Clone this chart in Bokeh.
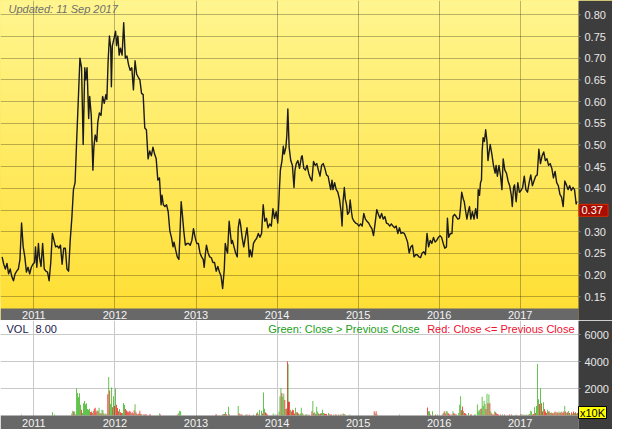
from bokeh.plotting import figure
from bokeh.layouts import column
from bokeh.models import Range1d, FixedTicker, Grid, BoxAnnotation, Label
from bokeh.core.properties import value
from bokeh.embed import file_html
from bokeh.resources import INLINE

# ---------------- data ----------------
year_ticks = [2011, 2012, 2013, 2014, 2015, 2016, 2017]
year_labels = ["2011", "2012", "2013", "2014", "2015", "2016", "2017"]
price_ticks = [0.15, 0.20, 0.25, 0.30, 0.35, 0.40, 0.45, 0.50, 0.55, 0.60, 0.65, 0.70, 0.75, 0.80]
price_tick_labels = ["0.15", "0.20", "0.25", "0.30", "0.35", "0.40", "0.45",
                     "0.50", "0.55", "0.60", "0.65", "0.70", "0.75", "0.80"]
vol_ticks = [2000, 4000, 6000]
vol_tick_labels = ["2000", "4000", "6000"]
updated_text = "Updated: 11 Sep 2017"
vol_avg_text = "8.00"
vol_unit_text = "x10K"

# close price, dates as decimal years
price_years = [
    2010.608, 2010.628, 2010.648, 2010.668, 2010.688, 2010.708, 2010.728, 2010.748, 2010.768, 2010.788,
    2010.808, 2010.828, 2010.848, 2010.868, 2010.888, 2010.908, 2010.928, 2010.948, 2010.968, 2010.988,
    2011.008, 2011.020, 2011.036, 2011.056, 2011.068, 2011.088, 2011.108, 2011.128, 2011.148, 2011.168,
    2011.188, 2011.208, 2011.228, 2011.248, 2011.268, 2011.288, 2011.308, 2011.328, 2011.348, 2011.368,
    2011.388, 2011.408, 2011.428, 2011.448, 2011.468, 2011.488, 2011.508, 2011.528, 2011.548, 2011.568,
    2011.588, 2011.608, 2011.628, 2011.640, 2011.656, 2011.676, 2011.688, 2011.708, 2011.728, 2011.740,
    2011.756, 2011.776, 2011.788, 2011.808, 2011.828, 2011.848, 2011.868, 2011.888, 2011.900, 2011.916,
    2011.932, 2011.948, 2011.956, 2011.968, 2011.988, 2012.008, 2012.020, 2012.036, 2012.052, 2012.068,
    2012.088, 2012.108, 2012.128, 2012.148, 2012.168, 2012.188, 2012.208, 2012.228, 2012.248, 2012.268,
    2012.288, 2012.308, 2012.328, 2012.348, 2012.368, 2012.388,
    2012.409, 2012.429, 2012.449, 2012.469, 2012.489, 2012.509, 2012.529, 2012.549, 2012.569, 2012.581,
    2012.597, 2012.617, 2012.637, 2012.657, 2012.677, 2012.697, 2012.717, 2012.729, 2012.749, 2012.769,
    2012.789, 2012.801, 2012.817, 2012.829, 2012.849, 2012.869, 2012.889, 2012.909, 2012.929, 2012.949,
    2012.969, 2012.989, 2013.009, 2013.029, 2013.049, 2013.069, 2013.089, 2013.101, 2013.117, 2013.129,
    2013.149, 2013.169, 2013.189, 2013.209, 2013.229, 2013.249, 2013.269, 2013.289, 2013.309, 2013.329,
    2013.349, 2013.361, 2013.377, 2013.389, 2013.409, 2013.421, 2013.437, 2013.449, 2013.469, 2013.489,
    2013.509, 2013.521, 2013.537, 2013.549, 2013.569, 2013.589, 2013.609, 2013.629, 2013.641, 2013.657,
    2013.669, 2013.689, 2013.709, 2013.729, 2013.749, 2013.769, 2013.789, 2013.809, 2013.829, 2013.849,
    2013.869, 2013.889, 2013.909, 2013.929, 2013.949, 2013.969, 2013.989, 2014.009, 2014.029, 2014.041,
    2014.061, 2014.077, 2014.089, 2014.109, 2014.121, 2014.133, 2014.149, 2014.169, 2014.189, 2014.209,
    2014.221, 2014.237, 2014.257, 2014.277, 2014.301,
    2014.310, 2014.330, 2014.350, 2014.370, 2014.390, 2014.410, 2014.430, 2014.450, 2014.470, 2014.490,
    2014.510, 2014.530, 2014.550, 2014.570, 2014.590, 2014.610, 2014.630, 2014.650, 2014.662, 2014.678,
    2014.690, 2014.710, 2014.730, 2014.750, 2014.770, 2014.790, 2014.802, 2014.814, 2014.830, 2014.842,
    2014.858, 2014.870, 2014.890, 2014.902, 2014.918, 2014.930, 2014.950, 2014.970, 2014.990, 2015.010,
    2015.030, 2015.050, 2015.070, 2015.090, 2015.110, 2015.130, 2015.150, 2015.170, 2015.190, 2015.210,
    2015.230, 2015.250, 2015.270, 2015.290, 2015.310, 2015.330, 2015.350, 2015.370, 2015.390, 2015.410,
    2015.430, 2015.450, 2015.470, 2015.490, 2015.510, 2015.530, 2015.550, 2015.570, 2015.590, 2015.610,
    2015.630, 2015.650, 2015.670, 2015.690, 2015.710, 2015.730, 2015.750, 2015.770, 2015.790, 2015.810,
    2015.830, 2015.850, 2015.870,
    2015.890, 2015.910, 2015.930, 2015.950, 2015.970, 2015.990, 2016.010, 2016.030, 2016.050, 2016.070,
    2016.090, 2016.102, 2016.118, 2016.138, 2016.158, 2016.170, 2016.190, 2016.210, 2016.230, 2016.250,
    2016.262, 2016.278, 2016.298, 2016.310, 2016.322, 2016.342, 2016.358, 2016.374, 2016.390, 2016.410,
    2016.430, 2016.450, 2016.470, 2016.482, 2016.498, 2016.510, 2016.522, 2016.530, 2016.542, 2016.558,
    2016.574, 2016.590, 2016.602, 2016.618, 2016.630, 2016.650, 2016.670, 2016.690, 2016.702, 2016.718,
    2016.738, 2016.758, 2016.774, 2016.790, 2016.810, 2016.830, 2016.850, 2016.870, 2016.890, 2016.902,
    2016.918, 2016.930, 2016.950, 2016.970, 2016.990, 2017.010, 2017.030, 2017.050, 2017.070, 2017.090,
    2017.110, 2017.130, 2017.150, 2017.170, 2017.190, 2017.210, 2017.230, 2017.250, 2017.270, 2017.290,
    2017.310, 2017.330, 2017.350, 2017.370, 2017.390, 2017.410, 2017.430, 2017.450, 2017.470, 2017.490,
    2017.510, 2017.530, 2017.550, 2017.570, 2017.590, 2017.610, 2017.630, 2017.650, 2017.670, 2017.690,
    2017.700,
]
price_values = [
    0.242, 0.225, 0.214, 0.227, 0.203, 0.214, 0.196, 0.187, 0.203, 0.209,
    0.214, 0.236, 0.320, 0.265, 0.242, 0.207, 0.218, 0.203, 0.218, 0.225,
    0.229, 0.265, 0.218, 0.273, 0.242, 0.220, 0.273, 0.214, 0.209, 0.207,
    0.187, 0.229, 0.296, 0.280, 0.265, 0.267, 0.262, 0.269, 0.225, 0.262,
    0.262, 0.214, 0.209, 0.280, 0.331, 0.397, 0.413, 0.512, 0.605, 0.700,
    0.678, 0.501, 0.678, 0.650, 0.678, 0.561, 0.612, 0.568, 0.442, 0.495,
    0.523, 0.508, 0.552, 0.574, 0.568, 0.612, 0.596, 0.616, 0.605, 0.694,
    0.751, 0.723, 0.634, 0.729, 0.745, 0.762, 0.729, 0.751, 0.707, 0.723,
    0.707, 0.782, 0.700, 0.705, 0.685, 0.672, 0.678, 0.627, 0.694, 0.663,
    0.656, 0.650, 0.619, 0.616, 0.539, 0.535,
    0.468, 0.486, 0.475, 0.495, 0.479, 0.468, 0.419, 0.424, 0.362, 0.384,
    0.362, 0.358, 0.362, 0.346, 0.302, 0.287, 0.265, 0.276, 0.258, 0.242,
    0.236, 0.287, 0.369, 0.346, 0.302, 0.269, 0.273, 0.273, 0.269, 0.280,
    0.307, 0.287, 0.273, 0.273, 0.251, 0.242, 0.236, 0.218, 0.251, 0.269,
    0.251, 0.242, 0.240, 0.229, 0.229, 0.209, 0.220, 0.207, 0.198, 0.169,
    0.214, 0.273, 0.258, 0.251, 0.324, 0.302, 0.273, 0.280, 0.265, 0.251,
    0.242, 0.309, 0.329, 0.318, 0.287, 0.265, 0.287, 0.309, 0.287, 0.242,
    0.258, 0.242, 0.273, 0.280, 0.285, 0.296, 0.287, 0.296, 0.362, 0.324,
    0.331, 0.309, 0.318, 0.313, 0.353, 0.331, 0.346, 0.320, 0.397, 0.442,
    0.464, 0.497, 0.479, 0.495, 0.523, 0.583, 0.495, 0.464, 0.453, 0.402,
    0.442, 0.457, 0.464, 0.446, 0.473,
    0.475, 0.446, 0.442, 0.453, 0.435, 0.424, 0.417, 0.462, 0.453, 0.457,
    0.442, 0.428, 0.453, 0.457, 0.446, 0.431, 0.428, 0.408, 0.397, 0.419,
    0.397, 0.413, 0.397, 0.391, 0.375, 0.346, 0.313, 0.369, 0.402, 0.375,
    0.362, 0.340, 0.346, 0.373, 0.346, 0.331, 0.324, 0.320, 0.318, 0.313,
    0.318, 0.313, 0.342, 0.329, 0.324, 0.320, 0.313, 0.307, 0.291, 0.320,
    0.351, 0.340, 0.331, 0.342, 0.329, 0.335, 0.320, 0.318, 0.313, 0.318,
    0.313, 0.309, 0.313, 0.296, 0.309, 0.296, 0.298, 0.296, 0.287, 0.276,
    0.251, 0.265, 0.269, 0.242, 0.247, 0.247, 0.242, 0.240, 0.251, 0.254,
    0.247, 0.296, 0.265,
    0.280, 0.273, 0.287, 0.276, 0.280, 0.287, 0.291, 0.287, 0.273, 0.262,
    0.265, 0.331, 0.287, 0.296, 0.296, 0.335, 0.340, 0.335, 0.329, 0.331,
    0.353, 0.391, 0.375, 0.369, 0.353, 0.329, 0.346, 0.358, 0.329, 0.346,
    0.329, 0.353, 0.331, 0.397, 0.384, 0.413, 0.419, 0.484, 0.517, 0.508,
    0.535, 0.508, 0.464, 0.486, 0.501, 0.479, 0.453, 0.435, 0.453, 0.428,
    0.453, 0.428, 0.397, 0.468, 0.442, 0.435, 0.417, 0.406, 0.384, 0.358,
    0.402, 0.408, 0.369, 0.413, 0.391, 0.395, 0.402, 0.428, 0.397, 0.391,
    0.413, 0.431, 0.406, 0.417, 0.428, 0.431, 0.490, 0.457, 0.475, 0.484,
    0.464, 0.468, 0.453, 0.457, 0.446, 0.424, 0.439, 0.413, 0.406, 0.386,
    0.380, 0.358, 0.417, 0.408, 0.397, 0.406, 0.395, 0.402, 0.397, 0.364,
    0.370,
]

# volume in units of 10K shares, dates as decimal years, G = close > previous close, R = otherwise
vol_years = [
    2010.844, 2011.228, 2011.252, 2011.468, 2011.480, 2011.492, 2011.504, 2011.516, 2011.528, 2011.540,
    2011.552, 2011.564, 2011.576, 2011.588, 2011.600, 2011.612, 2011.624, 2011.636, 2011.648, 2011.660,
    2011.672, 2011.684, 2011.696, 2011.708, 2011.720, 2011.732, 2011.744, 2011.756, 2011.768, 2011.780,
    2011.792, 2011.804, 2011.816, 2011.828, 2011.840, 2011.852, 2011.864, 2011.876, 2011.888, 2011.900,
    2011.912, 2011.924, 2011.936, 2011.948, 2011.960, 2011.972, 2011.984, 2011.996, 2012.008, 2012.020,
    2012.032, 2012.044, 2012.056, 2012.068, 2012.080, 2012.092, 2012.104, 2012.116, 2012.128, 2012.140,
    2012.152, 2012.164, 2012.176, 2012.188, 2012.200, 2012.212, 2012.224, 2012.236, 2012.248, 2012.260,
    2012.272, 2012.284, 2012.296, 2012.308, 2012.320, 2012.332, 2012.356, 2012.368, 2012.380, 2012.392,
    2012.428, 2012.440, 2012.548, 2012.560, 2012.768, 2012.788, 2012.800, 2012.812, 2013.244, 2013.256,
    2013.328, 2013.340, 2013.352, 2013.364, 2013.376, 2013.400, 2013.412, 2013.520, 2013.532, 2013.544,
    2013.556, 2013.568, 2013.616, 2013.628, 2013.656, 2013.712, 2013.748, 2013.760, 2013.772, 2013.784,
    2013.808, 2013.820, 2013.832, 2013.844, 2013.856, 2013.868, 2013.880, 2013.952, 2013.976, 2014.000,
    2014.024, 2014.036, 2014.048, 2014.060, 2014.072, 2014.084, 2014.096, 2014.108, 2014.120, 2014.128,
    2014.136, 2014.142, 2014.154, 2014.166, 2014.178, 2014.190, 2014.202, 2014.214, 2014.226, 2014.238,
    2014.250, 2014.262, 2014.274, 2014.286, 2014.298, 2014.310, 2014.322, 2014.346, 2014.358, 2014.370,
    2014.394, 2014.430, 2014.442, 2014.454, 2014.466, 2014.478, 2014.490, 2014.502, 2014.514, 2014.526,
    2014.538, 2014.550, 2014.562, 2014.574, 2014.586, 2014.598, 2014.610, 2014.634, 2014.646, 2014.658,
    2014.670, 2014.694, 2014.718, 2014.730, 2014.754, 2014.778, 2014.790, 2014.814, 2014.826, 2014.838,
    2014.898, 2015.198, 2015.210, 2015.222, 2015.234, 2015.510, 2015.858, 2015.870, 2015.882, 2015.894,
    2015.918, 2015.954, 2015.978, 2016.038, 2016.050, 2016.062, 2016.074, 2016.086, 2016.098, 2016.110,
    2016.122, 2016.134, 2016.158, 2016.170, 2016.182, 2016.194, 2016.206, 2016.218, 2016.242, 2016.254,
    2016.266, 2016.278, 2016.290, 2016.302, 2016.314, 2016.326, 2016.338, 2016.362, 2016.386, 2016.398,
    2016.434, 2016.446, 2016.470, 2016.482, 2016.494, 2016.506, 2016.518, 2016.530, 2016.542, 2016.554,
    2016.566, 2016.578, 2016.590, 2016.602, 2016.614, 2016.626, 2016.638, 2016.650, 2016.662, 2016.674,
    2016.686, 2016.698, 2016.710, 2016.722, 2016.734, 2016.758, 2016.782, 2016.806, 2016.866, 2016.890,
    2016.950, 2017.010, 2017.034, 2017.058, 2017.082, 2017.106, 2017.118, 2017.130, 2017.142, 2017.154,
    2017.166, 2017.178, 2017.190, 2017.202, 2017.214, 2017.226, 2017.238, 2017.250, 2017.262, 2017.274,
    2017.286, 2017.298, 2017.310, 2017.322, 2017.334, 2017.346, 2017.358, 2017.370, 2017.382, 2017.394,
    2017.406, 2017.418, 2017.430, 2017.442, 2017.454, 2017.466, 2017.478, 2017.490, 2017.502, 2017.514,
    2017.526, 2017.538, 2017.550, 2017.562, 2017.574, 2017.586, 2017.598, 2017.610, 2017.622, 2017.634,
    2017.646, 2017.658, 2017.670, 2017.682, 2017.694, 2017.706,
]
vol_values = [
    70, 240, 70, 140, 360, 290, 290, 70, 2000, 1670,
    1360, 1640, 790, 430, 190, 900, 1070, 830, 900, 480,
    430, 500, 260, 290, 190, 330, 500, 570, 290, 380,
    310, 570, 190, 140, 430, 380, 140, 70, 140, 70,
    1570, 2860, 1860, 860, 2070, 620, 1430, 710, 2000, 790,
    550, 310, 480, 240, 190, 190, 930, 790, 480, 380,
    290, 240, 330, 290, 190, 240, 140, 380, 830, 240,
    120, 120, 140, 360, 120, 120, 70, 70, 70, 70,
    70, 70, 140, 70, 70, 190, 360, 310, 70, 70,
    70, 120, 120, 260, 100, 640, 70, 710, 140, 70,
    70, 70, 70, 70, 70, 70, 140, 240, 70, 400,
    360, 140, 1710, 500, 240, 140, 70, 140, 70, 70,
    290, 1430, 2020, 1670, 1380, 1620, 1140, 480, 520, 4000,
    3810, 1020, 1020, 430, 290, 430, 380, 140, 570, 240,
    240, 140, 70, 140, 570, 190, 70, 70, 70, 70,
    70, 310, 1070, 190, 240, 120, 640, 290, 140, 120,
    140, 190, 430, 190, 140, 120, 120, 190, 70, 70,
    70, 70, 70, 70, 70, 70, 70, 140, 120, 70,
    70, 310, 140, 310, 70, 70, 600, 310, 310, 70,
    310, 70, 70, 70, 190, 310, 140, 310, 310, 190,
    120, 70, 70, 310, 190, 120, 70, 70, 190, 790,
    1430, 380, 670, 310, 190, 140, 70, 190, 70, 70,
    70, 70, 810, 310, 380, 480, 520, 1380, 710, 1070,
    860, 480, 1620, 900, 1550, 900, 290, 140, 70, 70,
    310, 240, 140, 120, 70, 70, 70, 70, 70, 70,
    70, 120, 70, 70, 70, 70, 120, 360, 290, 70,
    120, 620, 190, 710, 3810, 1210, 860, 2020, 900, 310,
    980, 480, 290, 190, 430, 290, 310, 190, 240, 190,
    140, 240, 290, 190, 260, 190, 290, 190, 240, 290,
    190, 290, 710, 290, 190, 240, 330, 190, 70, 240,
    140, 290, 190, 240, 140, 190,
]
vol_dir = list(
    "GGGGGRGRGG" "GGGRGGGGGG" "GGRRRGRRRG" "RGGRGGRGGG" "RGRGGRGRGR"
    "RRGRRGGGRR" "RRRRGRRRGR" "RGRRRGRRRR" "RRGRRGGGRR" "RGRGRGRGRR"
    "RRGRRGRGRG" "GRGGRRRGGR" "GGGRGGRGRR" "GRRGRRRRGG" "RRGGGGRGRG"
    "GRGRGRGGRG" "RGGGRRRGRR" "RGRGRGRGRG" "GRGRRGRGGR" "GRGRGRRGGR"
    "RRRGRRRGGG" "GRRGRRGGRR" "GGGGGGRGGG" "GRGRGRGRRR" "GRRRRRGRRR"
    "GRGGGRGGGR" "RGRGGGRGRR" "GRRRGRGRGR" "RGRGRRGRRG" "RRGRGRGRGR"
    "GRGRGR"
)

# ---------------- styling / layout ----------------
FONT = "Liberation Sans"
PANEL = "#3e3d3d"
BAR_GRAY = "#686868"
AXIS_TEXT = "#e8e8e8"
W = 612
RIGHT = 34
PLOT_W = W - RIGHT
X0, X1 = 2010.588, 2017.719
yr_per_px = (X1 - X0) / PLOT_W
X_END = X1 + RIGHT * yr_per_px

PRICE_H, DATE_H = 308, 12
P_LO, P_HI = 0.123, 0.833
p_per_px = (P_HI - P_LO) / PRICE_H
P_BOT = P_LO - DATE_H * p_per_px

LEG_H, VOL_H, BOT_H = 14, 81, 14
v_per_px = 6000.0 / VOL_H
V_TOP = 6000 + LEG_H * v_per_px
V_BOT = -BOT_H * v_per_px

x_range = Range1d(X0, X_END)


def base_fig(height, y_range):
    f = figure(width=W, height=height, x_range=x_range, y_range=y_range,
               output_backend="svg", toolbar_location=None,
               x_axis_location=None, y_axis_location=None,
               min_border_left=0, min_border_right=0, min_border_top=0, min_border_bottom=0,
               border_fill_color=PANEL, outline_line_color=None)
    for g in f.grid:
        g.visible = False
    return f


def right_panel(f, ticks, labels, y_lo):
    # dark value panel on the right, with its tick marks and labels
    f.add_layout(BoxAnnotation(left=X1, fill_color=PANEL, fill_alpha=1.0, line_color=None))
    f.segment(x0=[X1] * len(ticks), x1=[X1 + 2 * yr_per_px] * len(ticks), y0=ticks, y1=ticks,
              line_color="#8c8c8c", line_width=1, level="overlay")
    f.text(x=[X1 + 6 * yr_per_px] * len(ticks), y=ticks, text=labels,
           text_align="left", text_baseline="middle", text_font=value(FONT),
           text_font_size="11px", text_color=AXIS_TEXT, level="overlay")


def date_bar(f, y_lo, y_hi):
    f.add_layout(BoxAnnotation(top=y_hi, right=X1, fill_color=BAR_GRAY, fill_alpha=1.0,
                               line_color=None))
    f.text(x=year_ticks, y=[(y_lo + y_hi) / 2] * len(year_ticks), text=year_labels,
           text_align="center", text_baseline="middle", text_font=value(FONT),
           text_font_size="11px", text_color="#f4f4f4", level="overlay")


# ---------- price panel ----------
p1 = base_fig(PRICE_H + DATE_H, Range1d(P_BOT, P_HI))
p1.background_fill_color = "#ffe84f"

top_rgb = (255, 245, 142)
bot_rgb = (255, 223, 54)
N = 56
for i in range(N):
    t = i / (N - 1)
    r, g, b = [round(bot_rgb[k] + (top_rgb[k] - bot_rgb[k]) * t) for k in range(3)]
    p1.add_layout(BoxAnnotation(bottom=(P_BOT if i == 0 else P_LO + (P_HI - P_LO) * i / N),
                                fill_color="#%02x%02x%02x" % (r, g, b), fill_alpha=1.0,
                                line_color=None, level="image"))

p1.add_layout(Grid(dimension=1, ticker=FixedTicker(ticks=price_ticks),
                   grid_line_color="#000000", grid_line_alpha=0.27, grid_line_width=1))
p1.add_layout(Grid(dimension=0, ticker=FixedTicker(ticks=year_ticks),
                   grid_line_color="#000000", grid_line_alpha=0.27, grid_line_width=1))

p1.line(price_years, price_values, line_color="#1b1b1b", line_width=1.4, line_join="round")

date_bar(p1, P_BOT, P_LO)
right_panel(p1, price_ticks, price_tick_labels, P_BOT)

p1.add_layout(Label(x=X0, y=P_HI, x_offset=8, y_offset=-8, text=updated_text,
                    text_font=FONT, text_font_style="italic", text_font_size="11px",
                    text_color="#6e6e6e", text_baseline="middle"))

# last close marker on the value panel
last_close = price_values[-1]
close_y = last_close - 9 * p_per_px
p1.rect(x=[X1 + 15 * yr_per_px], y=[close_y], width=29, height=12,
        width_units="screen", height_units="screen",
        fill_color="#a80d00", line_color="#d42a00", line_width=1, level="overlay")
p1.text(x=[X1 + 3 * yr_per_px], y=[close_y], text=["%.2f" % last_close],
        text_align="left", text_baseline="middle", text_font=value(FONT),
        text_font_size="11px", text_color="#ffffff", level="overlay")

# ---------- volume panel ----------
p2 = base_fig(LEG_H + VOL_H + BOT_H, Range1d(V_BOT, V_TOP))
p2.background_fill_color = "#ffffff"
p2.add_layout(Grid(dimension=1, ticker=FixedTicker(ticks=vol_ticks),
                   grid_line_color="#c8c8c8", grid_line_width=1))
p2.add_layout(Grid(dimension=0, ticker=FixedTicker(ticks=year_ticks),
                   grid_line_color="#c8c8c8", grid_line_width=1))

vol_colors = ["#1fa800" if d == "G" else "#ee0000" for d in vol_dir]
p2.vbar(x=vol_years, top=vol_values, bottom=0, width=0.0085,
        fill_color=vol_colors, line_color=None)

date_bar(p2, V_BOT, 0)
right_panel(p2, vol_ticks, vol_tick_labels, V_BOT)

unit_y = 3 * v_per_px
p2.rect(x=[X1 + 14 * yr_per_px], y=[unit_y], width=28, height=12,
        width_units="screen", height_units="screen",
        fill_color="#ffff00", line_color="#000000", line_width=1, level="overlay")
p2.text(x=[X1 + 14 * yr_per_px], y=[unit_y], text=[vol_unit_text],
        text_align="center", text_baseline="middle", text_font=value(FONT),
        text_font_size="11px", text_color="#000000", level="overlay")

p2.add_layout(Label(x=X0, y=V_TOP, x_offset=6, y_offset=-8, text="VOL",
                    text_font=FONT, text_font_size="11px", text_color="#1a1a4e",
                    text_baseline="middle"))
p2.add_layout(Label(x=X0, y=V_TOP, x_offset=35, y_offset=-8, text=vol_avg_text,
                    text_font=FONT, text_font_size="11px", text_color="#1a1a4e",
                    text_baseline="middle"))
p2.add_layout(Label(x=X1, y=V_TOP, x_offset=-4, y_offset=-8,
                    text="Red: Close <= Previous Close", text_font=FONT, text_font_size="11px",
                    text_color="#ee1030", text_baseline="middle", text_align="right"))
p2.add_layout(Label(x=X1, y=V_TOP, x_offset=-159, y_offset=-8,
                    text="Green: Close > Previous Close", text_font=FONT, text_font_size="11px",
                    text_color="#22a020", text_baseline="middle", text_align="right"))

layout = column(p1, p2)
open("out.html", "w").write(file_html(layout, INLINE))
